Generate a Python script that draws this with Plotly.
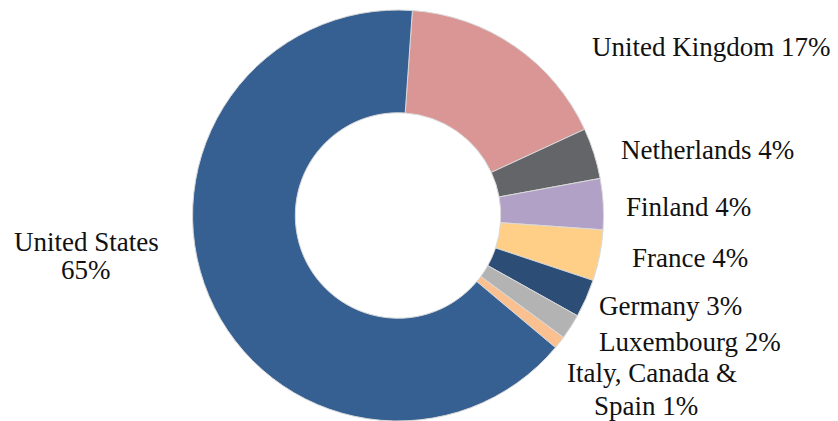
import plotly.graph_objects as go

# Share of holdings by country (percent)
countries = ["United Kingdom", "Netherlands", "Finland", "France", "Germany",
             "Luxembourg", "Italy, Canada & Spain", "United States"]
shares = [17, 4, 4, 4, 3, 2, 1, 65]
colors = ["#D99694", "#636569", "#B2A1C7", "#FFCF88", "#2C4D75",
          "#B3B3B3", "#FAC090", "#366092"]

# Label text lines for each country, drawn outside the ring
label_lines = {
    "United Kingdom": [f"United Kingdom {shares[0]}%"],
    "Netherlands": [f"Netherlands {shares[1]}%"],
    "Finland": [f"Finland {shares[2]}%"],
    "France": [f"France {shares[3]}%"],
    "Germany": [f"Germany {shares[4]}%"],
    "Luxembourg": [f"Luxembourg {shares[5]}%"],
    "Italy, Canada & Spain": ["Italy, Canada &", f"Spain {shares[6]}%"],
    "United States": ["United States", f"{shares[7]}%"],
}
# Pixel anchor (center x, middle y) of each text line
label_pos = {
    "United Kingdom": [(711, 47)],
    "Netherlands": [(707, 150)],
    "Finland": [(688, 207)],
    "France": [(690, 258)],
    "Germany": [(670, 306)],
    "Luxembourg": [(690, 342)],
    "Italy, Canada & Spain": [(652, 373), (646, 406)],
    "United States": [(86, 242), (86, 270)],
}

W, H = 838, 421
MT, MB = 10, 0
PH = H - MT - MB

fig = go.Figure(go.Pie(
    labels=countries,
    values=shares,
    hole=0.5,
    sort=False,
    direction="clockwise",
    rotation=4,
    marker=dict(colors=colors, line=dict(color="#D9D9D9", width=1)),
    textinfo="none",
    showlegend=False,
    domain=dict(x=[0.2, 0.75], y=[0, 1]),
))

font = dict(family="Liberation Serif", size=27, color="#111111")
annotations = []
for name in countries:
    for text, (px, py) in zip(label_lines[name], label_pos[name]):
        annotations.append(dict(
            text=text, x=px / W, y=(H - MB - py) / PH,
            xref="paper", yref="paper", xanchor="center", yanchor="middle",
            showarrow=False, font=font,
        ))

fig.update_layout(
    width=W, height=H,
    margin=dict(l=0, r=0, t=MT, b=MB, pad=0),
    paper_bgcolor="white", plot_bgcolor="white",
    annotations=annotations,
)

fig.write_html("out.html")
